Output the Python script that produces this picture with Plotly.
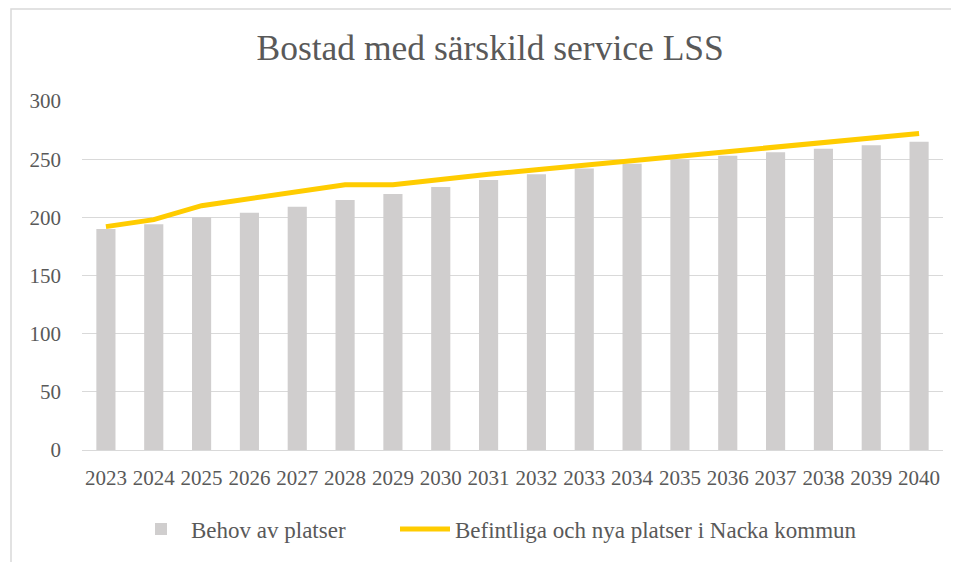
import plotly.graph_objects as go

years = [str(y) for y in range(2023, 2041)]
behov = [190, 194, 200, 204, 209, 215, 220, 226, 232, 237, 242, 246, 250, 253, 256, 259, 262, 265]
befintliga = [192, 198, 210, 216, 222, 228, 228, 233, 237, 241, 245, 249, 252, 256, 260, 264, 268, 272]

title_text = "Bostad med särskild service LSS"
name_bar = "Behov av platser"
name_line = "Befintliga och nya platser i Nacka kommun"

FONT = "Liberation Serif"
TXT = "#595959"
GRID = "#D9D9D9"

fig = go.Figure()
fig.add_trace(go.Bar(x=years, y=behov, name=name_bar, legend="legend",
                     marker=dict(color="#D0CECE", line=dict(width=0))))
fig.add_trace(go.Scatter(x=years, y=befintliga, name=name_line, mode="lines", legend="legend2",
                         line=dict(color="#FFCC00", width=5)))

W, H = 951, 554
L, T, R, B = 74, 93, 16, 112
PW = W - L - R
PH = H - T - B

leg_common = dict(orientation="h", xanchor="left", y=-79 / PH, yanchor="middle",
                  font=dict(family=FONT, size=23, color=TXT), itemwidth=50,
                  bgcolor="rgba(0,0,0,0)")

fig.update_layout(
    width=W, height=H,
    margin=dict(l=L, r=R, t=T, b=B, autoexpand=False),
    paper_bgcolor="white", plot_bgcolor="white",
    bargap=0.6,
    title=dict(text=title_text, x=0.507, xanchor="center", y=1 - 40 / H, yanchor="middle",
               font=dict(family=FONT, size=35.5, color=TXT)),
    font=dict(family=FONT, color=TXT, size=21),
    legend=dict(x=(123 - L) / PW, **leg_common),
    legend2=dict(x=(387 - L) / PW, **leg_common),
    showlegend=True,
)
fig.update_xaxes(type="category", showgrid=False, showline=True, linecolor=GRID, linewidth=1,
                 ticks="", tickfont=dict(family=FONT, size=21, color=TXT), ticklabelstandoff=9)
fig.update_yaxes(range=[0, 300], dtick=50, showgrid=True, gridcolor=GRID, gridwidth=1,
                 zeroline=False, showline=False, ticks="",
                 tickfont=dict(family=FONT, size=21, color=TXT), ticklabelstandoff=20)

fig.add_shape(type="rect", xref="paper", yref="paper",
              x0=(3 - L) / PW, x1=(W + 5 - L) / PW,
              y0=(H - B - (H + 10)) / PH, y1=(H - B - 1) / PH,
              line=dict(color=GRID, width=1.5), fillcolor="rgba(0,0,0,0)", layer="below")

fig.write_html("out.html")
